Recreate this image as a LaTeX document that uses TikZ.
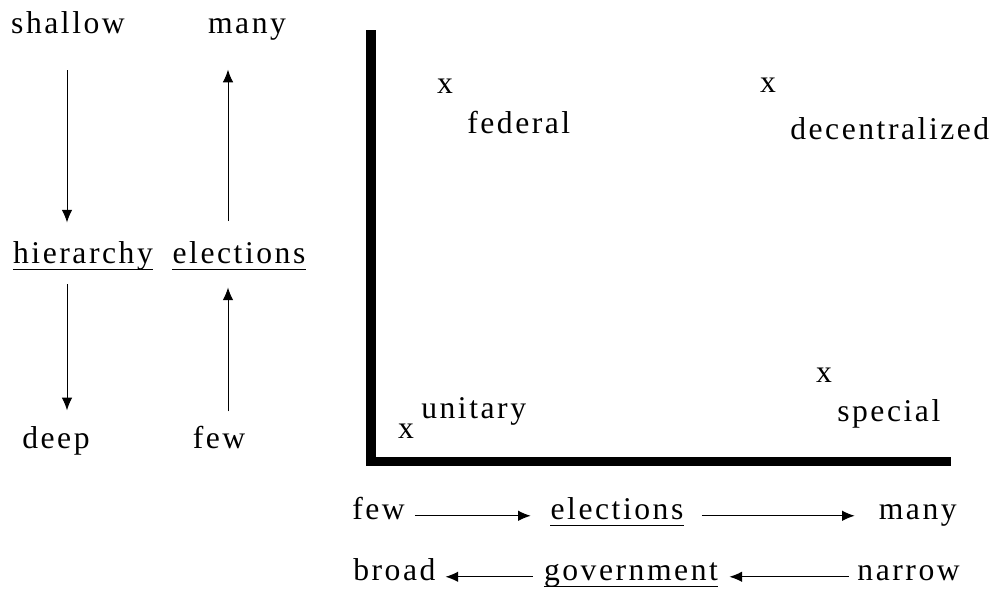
\documentclass[tikz,border=0pt]{standalone}
\usepackage{fontspec}
\setmainfont{Liberation Serif}[LetterSpace=8]
\usetikzlibrary{positioning, arrows.meta}

\begin{document}
\begin{tikzpicture}[x=0.025cm, y=-0.025cm, font=\fontsize{22.5pt}{26pt}\selectfont,
  lbl/.style={inner sep=0pt, anchor=base},
  arr/.style={-{Latex[length=9pt, width=7.5pt]}, line width=0.7pt},
  uline/.style={line width=0.7pt},
  axis/.style={line width=6.5pt}]
  \useasboundingbox (0,0) rectangle (991,601);
  % --- left columns ---
  \coordinate (colL) at (67,0);
  \coordinate (colR) at (228,0);
  \node[lbl] (shallow) at (68,33) {shallow};
  \node[lbl] (manyL) at (247,33) {many};
  \node[lbl] (hier) at (83,263) {hierarchy};
  \node[lbl] (elecL) at (239,263) {elections};
  \node[lbl] (deep) at (56,448) {deep};
  \node[lbl] (fewL) at (219,448) {few};
  \draw[uline] ([yshift=-4.3pt]hier.base west) -- ([yshift=-4.3pt]hier.base east);
  \draw[uline] ([yshift=-4.3pt]elecL.base west) -- ([yshift=-4.3pt]elecL.base east);
  \draw[arr, shorten <=26pt, shorten >=13pt] (shallow.south -| colL) -- (hier.north -| colL);
  \draw[arr, shorten <=10pt, shorten >=11pt] (hier.south -| colL) -- (deep.north -| colL);
  \draw[arr, shorten <=14pt, shorten >=21pt] (elecL.north -| colR) -- (manyL.south -| colR);
  \draw[arr, shorten <=10pt, shorten >=17pt] (fewL.north -| colR) -- (elecL.south -| colR);
  % --- axes ---
  \draw[axis] (371,30) -- (371,466);
  \draw[axis] (368,461.5) -- (951,461.5);
  % --- points ---
  \node[lbl] (fedx) at (445,93) {x};
  \node[lbl, anchor=base west] (fed) at (467,133) {federal};
  \node[lbl] (decx) at (768,92) {x};
  \node[lbl, anchor=base west] (dec) at (790,139) {decentralized};
  \node[lbl] (unix) at (406,438) {x};
  \node[lbl, anchor=base west] (uni) at (421,418) {unitary};
  \node[lbl] (spex) at (824,382) {x};
  \node[lbl, anchor=base west] (spe) at (837,421) {special};
  % --- bottom scales ---
  \node[lbl, anchor=base west] (fewB) at (352,519) {few};
  \node[lbl] (elecB) at (617,519) {elections};
  \node[lbl, anchor=base east] (manyB) at (957,519) {many};
  \node[lbl, anchor=base west] (broad) at (353,580) {broad};
  \node[lbl] (gov) at (631,580) {government};
  \node[lbl, anchor=base east] (narrow) at (960,580) {narrow};
  \draw[uline] ([yshift=-4.3pt]elecB.base west) -- ([yshift=-4.3pt]elecB.base east);
  \draw[uline] ([yshift=-4.3pt]gov.base west) -- ([yshift=-4.3pt]gov.base east);
  \draw[arr, shorten <=7pt, shorten >=14pt] (fewB.mid east) -- (elecB.mid west);
  \draw[arr, shorten <=13pt, shorten >=17pt] (elecB.mid east) -- (manyB.mid west);
  \draw[arr, shorten <=8pt, shorten >=7pt] (gov.mid west) -- (broad.mid east);
  \draw[arr, shorten <=6pt, shorten >=8pt] (narrow.mid west) -- (gov.mid east);
\end{tikzpicture}
\end{document}
